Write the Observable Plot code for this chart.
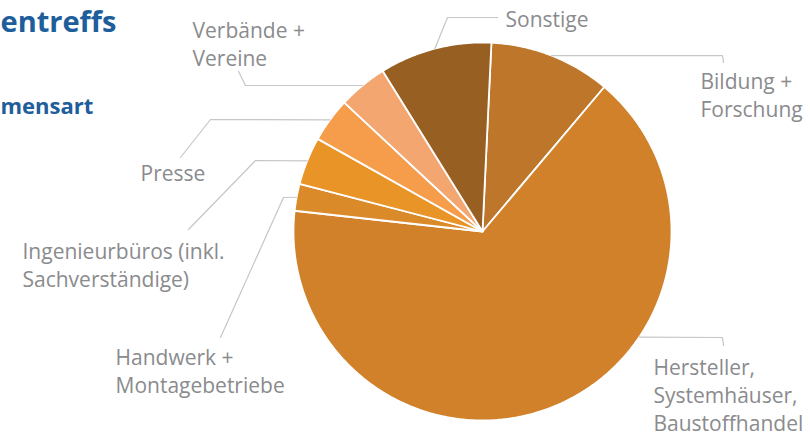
<!DOCTYPE html>
<html><head><meta charset="utf-8">
<script src="https://cdn.jsdelivr.net/npm/d3@7"></script>
<script src="https://cdn.jsdelivr.net/npm/@observablehq/plot@0.6"></script>
<style>html,body{margin:0;padding:0;background:#fff;overflow:hidden}svg{display:block}</style>
</head><body><div id="chart"></div>
<script>
// ---- data ----
const categories = [
  "Bildung + Forschung",
  "Hersteller, Systemhäuser, Baustoffhandel",
  "Handwerk + Montagebetriebe",
  "Ingenieurbüros (inkl. Sachverständige)",
  "Presse",
  "Verbände + Vereine",
  "Sonstige"
];
const shares = [10.4, 65.6, 2.3, 4.1, 3.8, 4.2, 9.6];
const labelTexts = [
  "Bildung +\nForschung",
  "Hersteller,\nSystemhäuser,\nBaustoffhandel",
  "Handwerk +\nMontagebetriebe",
  "Ingenieurbüros (inkl.\nSachverständige)",
  "Presse",
  "Verbände +\nVereine",
  "Sonstige"
];
// visible parts of the (cropped) title and subtitle
const titleText = "entreffs";
const subtitleText = "mensart";

// ---- styles ----
const sliceColors = ["#be772a", "#d0812a", "#db8a2a", "#e99427", "#f59d4b", "#f4a670", "#985f23"];
const blue = "#1d5e9b";
const labelGray = "#8a8b8d";
const leaderGray = "#c6c6c6";
const font = "Open Sans";

// ---- layout ----
const W = 810, H = 439;
const cx = 482, cy = 231, R = 189;
const startAngle = 2.7 * Math.PI / 180;
const labelLayout = {
  "Bildung + Forschung":                      {via: [[722, 55], [723, 62]],  text: [700, 88]},
  "Hersteller, Systemhäuser, Baustoffhandel": {angle: 124, via: [[722, 337], [723, 345]], text: [653, 374]},
  "Handwerk + Montagebetriebe":               {via: [[283, 197], [220, 337]], text: [115, 364]},
  "Ingenieurbüros (inkl. Sachverständige)":   {via: [[255, 160], [188, 229]], text: [22, 258]},
  "Presse":                                   {via: [[210, 119], [180, 157]], text: [140, 180]},
  "Verbände + Vereine":                       {via: [[245, 85], [238, 71]],   text: [192, 37]},
  "Sonstige":                                 {via: [[447, 17], [497, 17]],   text: [505, 26]}
};
const fs = 21, lineH = 28;

// ---- build ----
const data = categories.map((c, i) => ({name: c, share: shares[i], color: sliceColors[i], label: labelTexts[i]}));
const arcs = d3.pie().sort(null).value(d => d.share)
  .startAngle(startAngle).endAngle(startAngle + 2 * Math.PI)(data);
const pt = (a, rad = R) => [cx + rad * Math.sin(a), cy - rad * Math.cos(a)];

const slicePts = arcs.flatMap(a => {
  const n = Math.max(2, Math.ceil((a.endAngle - a.startAngle) / (Math.PI / 360)));
  const pts = [{name: a.data.name, color: a.data.color, x: cx, y: cy}];
  for (let i = 0; i <= n; i++) {
    const [x, y] = pt(a.startAngle + (a.endAngle - a.startAngle) * i / n);
    pts.push({name: a.data.name, color: a.data.color, x, y});
  }
  pts.push({name: a.data.name, color: a.data.color, x: cx, y: cy});
  return pts;
});

const leaderPts = arcs.flatMap(a => {
  const L = labelLayout[a.data.name];
  const ang = L.angle != null ? L.angle * Math.PI / 180 : (a.startAngle + a.endAngle) / 2;
  const [ex, ey] = pt(ang);
  return [[ex, ey], ...L.via].map(([x, y]) => ({name: a.data.name, x, y}));
});

const labels = data.map(d => {
  const L = labelLayout[d.name];
  const n = d.label.split("\n").length;
  return {text: d.label, x: L.text[0], y: L.text[1] + (n - 1) * lineH};
});

const chart = Plot.plot({
  width: W, height: H,
  margin: 0,
  x: {domain: [0, W], range: [0, W], axis: null},
  y: {domain: [0, H], range: [0, H], axis: null},
  color: {type: "identity"},
  style: {fontFamily: font, background: "#fff"},
  marks: [
    Plot.line(slicePts, {x: "x", y: "y", z: "name", fill: "color", stroke: "#fff", strokeWidth: 1.8, strokeLinejoin: "round", curve: "linear"}),
    Plot.line(leaderPts, {x: "x", y: "y", z: "name", stroke: leaderGray, strokeWidth: 1.2, curve: "linear"}),
    Plot.text(labels, {x: "x", y: "y", text: "text", textAnchor: "start", lineAnchor: "bottom", lineHeight: lineH / fs,
      fontSize: fs, fill: labelGray, fontFamily: font}),
    Plot.text([titleText], {x: () => 0, y: () => 31, text: d => d, textAnchor: "start", lineAnchor: "bottom",
      fontSize: 29, fontWeight: "bold", fill: blue, fontFamily: font}),
    Plot.text([subtitleText], {x: () => 0, y: () => 113, text: d => d, textAnchor: "start", lineAnchor: "bottom",
      fontSize: 22, fontWeight: "bold", fill: blue, fontFamily: font})
  ]
});
document.getElementById("chart").appendChild(chart);
</script>
</body></html>
